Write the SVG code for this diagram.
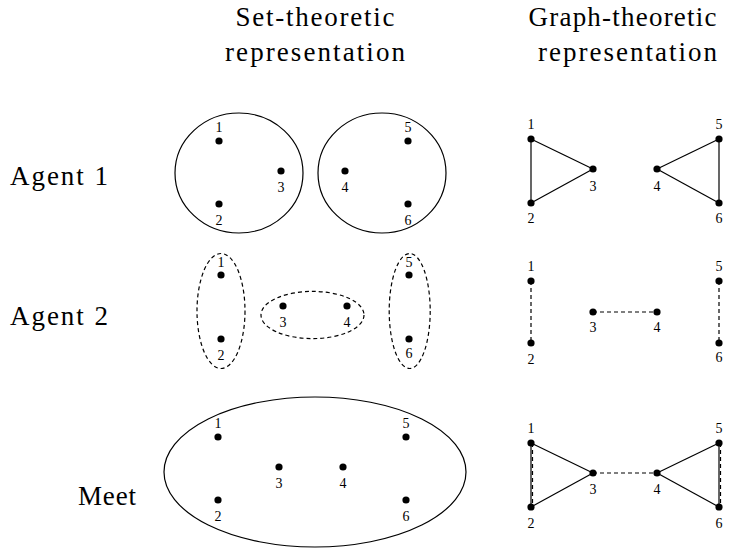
<svg xmlns="http://www.w3.org/2000/svg" xmlns:xlink="http://www.w3.org/1999/xlink" width="731" height="558" viewBox="0 0 731 558">
<defs>
<circle id="dot" cx="0" cy="0" r="3.6" fill="#000"/>
</defs>
<rect width="731" height="558" fill="#fff"/>
<g id="headers" font-family="Liberation Serif" font-size="27" text-anchor="middle" fill="#000">
<text x="315" y="26" textLength="159" lengthAdjust="spacing">Set-theoretic</text>
<text x="315" y="61" textLength="180" lengthAdjust="spacing">representation</text>
<text x="622.5" y="26" textLength="188" lengthAdjust="spacing">Graph-theoretic</text>
<text x="627.5" y="61" textLength="179" lengthAdjust="spacing">representation</text>
</g>
<g id="row-labels" font-family="Liberation Serif" font-size="27" fill="#000">
<text x="10" y="185" textLength="98" lengthAdjust="spacing">Agent 1</text>
<text x="10" y="325" textLength="98" lengthAdjust="spacing">Agent 2</text>
<text x="78" y="505" textLength="58" lengthAdjust="spacing">Meet</text>
</g>

<g id="sets" fill="none" stroke="#000" stroke-width="1.2">
<g id="a1-set-A"><ellipse cx="239" cy="173" rx="64" ry="60"/></g>
<g id="a1-set-B"><ellipse cx="382" cy="173" rx="64" ry="60"/></g>
<g id="a2-set-A"><ellipse cx="221" cy="311" rx="24" ry="57.5" stroke-dasharray="4 3"/></g>
<g id="a2-set-B"><ellipse cx="312.5" cy="315" rx="51.5" ry="23.6" stroke-dasharray="4 3"/></g>
<g id="a2-set-C"><ellipse cx="409.7" cy="311" rx="20.5" ry="57.5" stroke-dasharray="4 3"/></g>
<g id="m-set"><ellipse cx="315" cy="472" rx="151" ry="75"/></g>
</g>

<g id="connectors" stroke="#000" stroke-width="1.2" fill="none">
<line x1="531" y1="139" x2="531" y2="203"/>
<line x1="531" y1="139" x2="593" y2="169"/>
<line x1="531" y1="203" x2="593" y2="169"/>
<line x1="657" y1="169" x2="719" y2="139"/>
<line x1="657" y1="169" x2="719" y2="203"/>
<line x1="719" y1="139" x2="719" y2="203"/>
<g stroke-dasharray="4 3">
<line x1="531" y1="281" x2="531" y2="343"/>
<line x1="593" y1="312" x2="657" y2="312"/>
<line x1="719" y1="281" x2="719" y2="343"/>
</g>
<line x1="531" y1="443" x2="531" y2="507"/>
<line x1="531" y1="443" x2="593" y2="473"/>
<line x1="531" y1="507" x2="593" y2="473"/>
<line x1="657" y1="473" x2="719" y2="443"/>
<line x1="657" y1="473" x2="719" y2="507"/>
<line x1="719" y1="443" x2="719" y2="507"/>
<g stroke-dasharray="4 3">
<line x1="532.5" y1="443" x2="532.5" y2="507"/>
<line x1="593" y1="473" x2="657" y2="473"/>
<line x1="720.5" y1="443" x2="720.5" y2="507"/>
</g>
</g>

<g id="nodes" font-family="Liberation Serif" font-size="14" text-anchor="middle" fill="#000">
<g id="a1s-1"><use xlink:href="#dot" x="219" y="141"/><text x="219" y="132">1</text></g>
<g id="a1s-2"><use xlink:href="#dot" x="219" y="204"/><text x="219" y="225">2</text></g>
<g id="a1s-3"><use xlink:href="#dot" x="281" y="171"/><text x="281" y="192">3</text></g>
<g id="a1s-4"><use xlink:href="#dot" x="345" y="171"/><text x="345" y="192">4</text></g>
<g id="a1s-5"><use xlink:href="#dot" x="408" y="141"/><text x="408" y="132">5</text></g>
<g id="a1s-6"><use xlink:href="#dot" x="408" y="204"/><text x="408" y="225">6</text></g>

<g id="a2s-1"><use xlink:href="#dot" x="221" y="275"/><text x="221" y="267">1</text></g>
<g id="a2s-2"><use xlink:href="#dot" x="221" y="339"/><text x="221" y="360">2</text></g>
<g id="a2s-3"><use xlink:href="#dot" x="283" y="306"/><text x="283" y="327">3</text></g>
<g id="a2s-4"><use xlink:href="#dot" x="347" y="306"/><text x="347" y="327">4</text></g>
<g id="a2s-5"><use xlink:href="#dot" x="409" y="275"/><text x="409" y="267">5</text></g>
<g id="a2s-6"><use xlink:href="#dot" x="409" y="339"/><text x="409" y="358">6</text></g>

<g id="ms-1"><use xlink:href="#dot" x="218" y="437"/><text x="218" y="428">1</text></g>
<g id="ms-2"><use xlink:href="#dot" x="218" y="500"/><text x="218" y="521">2</text></g>
<g id="ms-3"><use xlink:href="#dot" x="279" y="467"/><text x="279" y="488">3</text></g>
<g id="ms-4"><use xlink:href="#dot" x="343" y="467"/><text x="343" y="488">4</text></g>
<g id="ms-5"><use xlink:href="#dot" x="406" y="437"/><text x="406" y="428">5</text></g>
<g id="ms-6"><use xlink:href="#dot" x="406" y="500"/><text x="406" y="521">6</text></g>

<g id="a1g-1"><use xlink:href="#dot" x="531" y="139"/><text x="531" y="129">1</text></g>
<g id="a1g-2"><use xlink:href="#dot" x="531" y="203"/><text x="531" y="223">2</text></g>
<g id="a1g-3"><use xlink:href="#dot" x="593" y="169"/><text x="593" y="191">3</text></g>
<g id="a1g-4"><use xlink:href="#dot" x="657" y="169"/><text x="657" y="191">4</text></g>
<g id="a1g-5"><use xlink:href="#dot" x="719" y="139"/><text x="719" y="129">5</text></g>
<g id="a1g-6"><use xlink:href="#dot" x="719" y="203"/><text x="719" y="223">6</text></g>

<g id="a2g-1"><use xlink:href="#dot" x="531" y="281"/><text x="531" y="271">1</text></g>
<g id="a2g-2"><use xlink:href="#dot" x="531" y="343"/><text x="531" y="364">2</text></g>
<g id="a2g-3"><use xlink:href="#dot" x="593" y="312"/><text x="593" y="332">3</text></g>
<g id="a2g-4"><use xlink:href="#dot" x="657" y="312"/><text x="657" y="332">4</text></g>
<g id="a2g-5"><use xlink:href="#dot" x="719" y="281"/><text x="719" y="271">5</text></g>
<g id="a2g-6"><use xlink:href="#dot" x="719" y="343"/><text x="719" y="362">6</text></g>

<g id="mg-1"><use xlink:href="#dot" x="531" y="443"/><text x="531" y="433">1</text></g>
<g id="mg-2"><use xlink:href="#dot" x="531" y="507"/><text x="531" y="528">2</text></g>
<g id="mg-3"><use xlink:href="#dot" x="593" y="473"/><text x="593" y="494">3</text></g>
<g id="mg-4"><use xlink:href="#dot" x="657" y="473"/><text x="657" y="494">4</text></g>
<g id="mg-5"><use xlink:href="#dot" x="719" y="443"/><text x="719" y="433">5</text></g>
<g id="mg-6"><use xlink:href="#dot" x="719" y="507"/><text x="719" y="528">6</text></g>
</g>
</svg>
